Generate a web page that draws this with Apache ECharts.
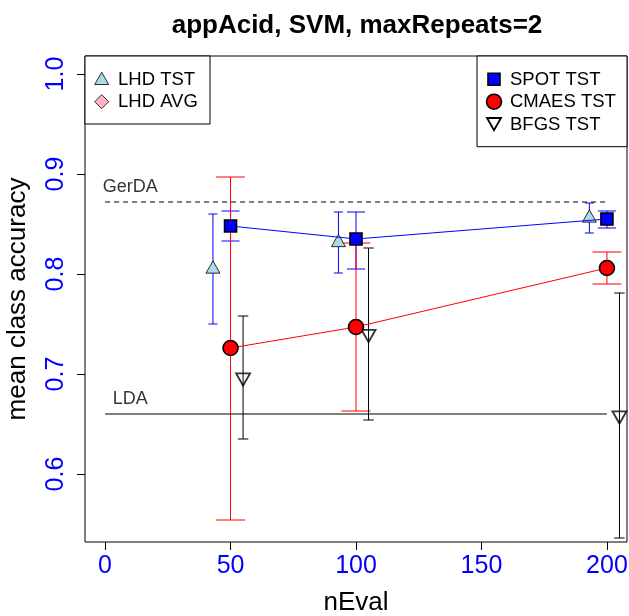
<!DOCTYPE html>
<html>
<head>
<meta charset="utf-8">
<script src="https://cdn.jsdelivr.net/npm/echarts@6/dist/echarts.min.js"></script>
<style>html,body{margin:0;padding:0;background:#fff;}#c{width:629px;height:616px;}</style>
</head>
<body>
<div id="c"></div>
<script>
// ---- data ----
const xTicks = [0, 50, 100, 150, 200];
const yTicks = [0.6, 0.7, 0.8, 0.9, 1.0];

const lhdX  = [43, 93, 193];
const lhdY  = [0.805, 0.8315, 0.856];
const lhdLo = [0.750, 0.801, 0.841];
const lhdHi = [0.860, 0.862, 0.871];

const spotX  = [50, 100, 200];
const spotY  = [0.848, 0.835, 0.855];
const spotLo = [0.833, 0.805, 0.846];
const spotHi = [0.863, 0.862, 0.863];

const cmaesX  = [50, 100, 200];
const cmaesY  = [0.726, 0.747, 0.806];
const cmaesLo = [0.554, 0.663, 0.790];
const cmaesHi = [0.897, 0.831, 0.822];

const bfgsX  = [55, 105, 205];
const bfgsY  = [0.6965, 0.740, 0.6585];
const bfgsLo = [0.635, 0.654, 0.536];
const bfgsHi = [0.758, 0.826, 0.781];

const refX = [0, 200];
const gerdaY = 0.872;
const ldaY = 0.660;
const refLabelX = 10;

const FONT = "'Liberation Sans', Arial, Helvetica, sans-serif";

function pts(xs, ys) { return xs.map((x, i) => [x, ys[i]]); }
function errs(xs, lo, hi) { return xs.map((x, i) => [x, lo[i], hi[i]]); }

function errSeries(data, color, half) {
  return {
    type: 'custom',
    data: data,
    encode: { x: 0, y: [1, 2] },
    silent: true,
    renderItem: function (params, api) {
      const x = api.value(0);
      const lo = api.coord([x, api.value(1)]);
      const hi = api.coord([x, api.value(2)]);
      const st = { stroke: color, lineWidth: 1 };
      return {
        type: 'group',
        children: [
          { type: 'line', shape: { x1: lo[0], y1: lo[1], x2: hi[0], y2: hi[1] }, style: st },
          { type: 'line', shape: { x1: lo[0] - half, y1: lo[1], x2: lo[0] + half, y2: lo[1] }, style: st },
          { type: 'line', shape: { x1: hi[0] - half, y1: hi[1], x2: hi[0] + half, y2: hi[1] }, style: st }
        ]
      };
    }
  };
}

const chart = echarts.init(document.getElementById('c'), null, { renderer: 'canvas' });

const option = {
  animation: false,
  backgroundColor: '#ffffff',
  textStyle: { fontFamily: FONT },
  title: {
    text: 'appAcid, SVM, maxRepeats=2',
    left: 352, top: 8, textAlign: 'center',
    textStyle: { fontFamily: FONT, fontSize: 26, fontWeight: 'bold', color: '#000' }
  },
  grid: {
    left: 85, top: 56, width: 542, height: 486,
    containLabel: false, outerBoundsMode: 'none',
    show: true, borderColor: '#000', borderWidth: 1, backgroundColor: 'transparent'
  },
  xAxis: {
    type: 'value', min: -8, max: 208,
    name: 'nEval', nameLocation: 'middle', nameGap: 48,
    nameTextStyle: { fontFamily: FONT, fontSize: 26, color: '#000' },
    axisLine: { show: false, onZero: false },
    axisTick: { show: true, length: 8, customValues: xTicks, lineStyle: { color: '#000' } },
    axisLabel: { customValues: xTicks, color: '#0000FF', fontSize: 25, fontFamily: FONT, margin: 12 },
    splitLine: { show: false }
  },
  yAxis: {
    type: 'value', min: 0.532, max: 1.018,
    name: 'mean class accuracy', nameLocation: 'middle', nameGap: 54,
    nameTextStyle: { fontFamily: FONT, fontSize: 26, color: '#000' },
    axisLine: { show: false, onZero: false },
    axisTick: { show: true, length: 8, customValues: yTicks, lineStyle: { color: '#000' } },
    axisLabel: {
      customValues: yTicks, color: '#0000FF', fontSize: 25, fontFamily: FONT, margin: 16, rotate: 90,
      formatter: v => v.toFixed(1)
    },
    splitLine: { show: false }
  },
  series: [
    { type: 'line', data: pts(refX, [gerdaY, gerdaY]), symbol: 'none', silent: true,
      lineStyle: { color: '#000', width: 1, type: [5, 4] } },
    { type: 'line', data: pts(refX, [ldaY, ldaY]), symbol: 'none', silent: true,
      lineStyle: { color: '#000', width: 1 } },
    { type: 'scatter', data: [[refLabelX, gerdaY], [refLabelX, ldaY]], symbolSize: 1,
      itemStyle: { color: 'rgba(0,0,0,0)' }, silent: true,
      label: { show: true, position: [0.5, -14], align: 'center', verticalAlign: 'middle',
        fontFamily: FONT, fontSize: 18, color: '#000',
        formatter: p => (p.dataIndex === 0 ? 'GerDA' : 'LDA') } },

    errSeries(errs(lhdX, lhdLo, lhdHi), '#0000FF', 4.5),
    { type: 'scatter', data: pts(lhdX, lhdY), symbol: 'triangle', symbolSize: [14, 12.3], symbolOffset: [0, -2],
      itemStyle: { color: '#ADD8E6', borderColor: '#000', borderWidth: 0.8, opacity: 1 } },

    errSeries(errs(spotX, spotLo, spotHi), '#0000FF', 9),
    { type: 'line', data: pts(spotX, spotY), symbol: 'rect', symbolSize: 12,
      lineStyle: { color: '#0000FF', width: 1 },
      itemStyle: { color: '#0000FF', borderColor: '#000', borderWidth: 1.6 } },

    errSeries(errs(cmaesX, cmaesLo, cmaesHi), '#FF0000', 14.5),
    { type: 'line', data: pts(cmaesX, cmaesY), symbol: 'circle', symbolSize: 15,
      lineStyle: { color: '#FF0000', width: 1 },
      itemStyle: { color: '#FF0000', borderColor: '#000', borderWidth: 1.6 } },

    errSeries(errs(bfgsX, bfgsLo, bfgsHi), '#000000', 5.2),
    { type: 'scatter', data: pts(bfgsX, bfgsY), symbol: 'triangle', symbolRotate: 180,
      symbolSize: [14, 12.3], symbolOffset: [0, 2],
      itemStyle: { color: 'rgba(255,255,255,0)', borderColor: '#000', borderWidth: 1.8 } }
  ],
  graphic: [
    { type: 'rect', shape: { x: 85, y: 56, width: 125, height: 68 },
      style: { fill: '#fff', stroke: '#000', lineWidth: 1 }, z: 100 },
    { type: 'polygon', shape: { points: [[101.7, 72.2], [108.7, 84.5], [94.7, 84.5]] },
      style: { fill: '#ADD8E6', stroke: '#000', lineWidth: 0.8 }, z: 101 },
    { type: 'polygon', shape: { points: [[101.7, 94.7], [108.7, 101.7], [101.7, 108.7], [94.7, 101.7]] },
      style: { fill: '#FFB6C1', stroke: '#000', lineWidth: 0.8 }, z: 101 },
    { type: 'text', x: 118, y: 79.5, style: { text: 'LHD TST', font: '18.5px ' + FONT, fill: '#000', verticalAlign: 'middle' }, z: 101 },
    { type: 'text', x: 118, y: 102, style: { text: 'LHD AVG', font: '18.5px ' + FONT, fill: '#000', verticalAlign: 'middle' }, z: 101 },

    { type: 'rect', shape: { x: 477, y: 56, width: 150, height: 90.7 },
      style: { fill: '#fff', stroke: '#000', lineWidth: 1 }, z: 100 },
    { type: 'rect', shape: { x: 488, y: 73.3, width: 12, height: 12 },
      style: { fill: '#0000FF', stroke: '#000', lineWidth: 1.6 }, z: 101 },
    { type: 'circle', shape: { cx: 494, cy: 101.7, r: 7.5 },
      style: { fill: '#FF0000', stroke: '#000', lineWidth: 1.6 }, z: 101 },
    { type: 'polygon', shape: { points: [[487, 118], [501, 118], [494, 130.3]] },
      style: { fill: 'none', stroke: '#000', lineWidth: 1.8 }, z: 101 },
    { type: 'text', x: 510, y: 79.5, style: { text: 'SPOT TST', font: '18.5px ' + FONT, fill: '#000', verticalAlign: 'middle' }, z: 101 },
    { type: 'text', x: 510, y: 102, style: { text: 'CMAES TST', font: '18.5px ' + FONT, fill: '#000', verticalAlign: 'middle' }, z: 101 },
    { type: 'text', x: 510, y: 124.5, style: { text: 'BFGS TST', font: '18.5px ' + FONT, fill: '#000', verticalAlign: 'middle' }, z: 101 }
  ]
};
chart.setOption(option);
</script>
</body>
</html>
